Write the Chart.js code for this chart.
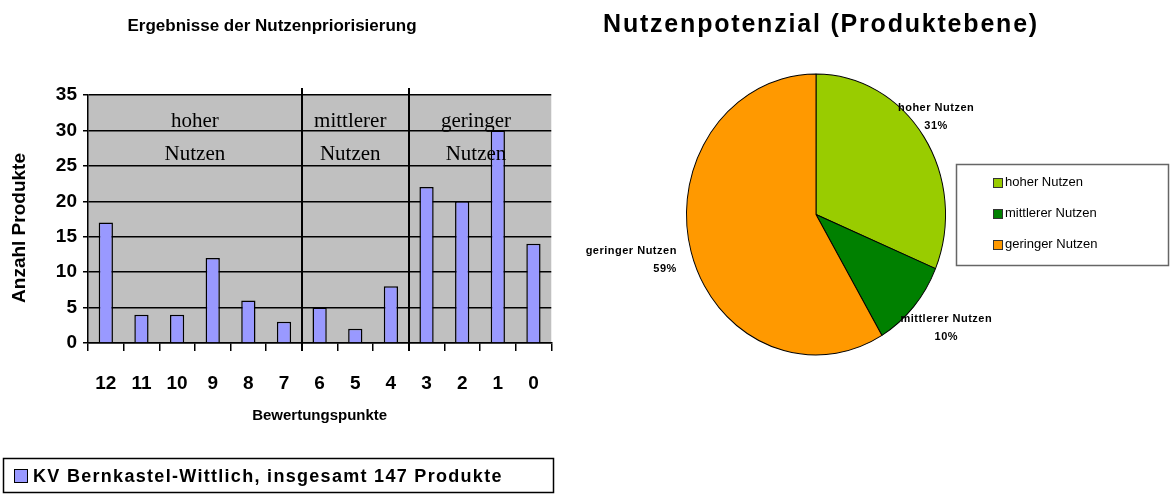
<!DOCTYPE html>
<html>
<head>
<meta charset="utf-8">
<script src="https://cdn.jsdelivr.net/npm/chart.js@4.4.1/dist/chart.umd.min.js"></script>
<style>
  html, body { margin: 0; padding: 0; background: #fff; }
  #wrap { position: relative; width: 1170px; height: 495px; overflow: hidden; }
  canvas { position: absolute; top: 0; }
  #bar { left: 0; }
  #pie { left: 560px; }
</style>
</head>
<body>
<div id="wrap">
  <canvas id="bar" width="560" height="495"></canvas>
  <canvas id="pie" width="610" height="495"></canvas>
</div>
<script>
// ---- data ----
const categories = ['12', '11', '10', '9', '8', '7', '6', '5', '4', '3', '2', '1', '0'];
const productCounts = [17, 4, 4, 12, 6, 3, 5, 2, 8, 22, 20, 30, 14];
const yMin = 0;
const yMax = 35;
const yStep = 5;
const groupLabels = [['hoher', 'Nutzen'], ['mittlerer', 'Nutzen'], ['geringer', 'Nutzen']];
const groupStartIndex = [0, 6, 9];
const barSeriesLabel = 'KV Bernkastel-Wittlich, insgesamt 147 Produkte';
const barTitle = 'Ergebnisse der Nutzenpriorisierung';
const xAxisTitle = 'Bewertungspunkte';
const yAxisTitle = 'Anzahl Produkte';

const pieTitle = 'Nutzenpotenzial (Produktebene)';
const pieLabels = ['hoher Nutzen', 'mittlerer Nutzen', 'geringer Nutzen'];
const pieValues = [46, 15, 86];
const pieColors = ['#99CC00', '#008000', '#FF9900'];

const SANS = '"Liberation Sans", Arial, sans-serif';
const SERIF = '"Liberation Serif", "Times New Roman", serif';
Chart.defaults.font.family = SANS;
Chart.defaults.color = '#000';

// ---- bar chart ----
const barDecor = {
  id: 'barDecor',
  beforeDraw(chart) {
    const { ctx, chartArea: a } = chart;
    ctx.save();
    ctx.fillStyle = '#C0C0C0';
    ctx.fillRect(a.left, a.top, a.right - a.left, a.bottom - a.top);
    ctx.restore();
  },
  afterDatasetsDraw(chart) {
    const { ctx, chartArea: a, scales: { x } } = chart;
    ctx.save();
    const bounds = groupStartIndex.map(i => i === 0 ? a.left : (x.getPixelForValue(i - 1) + x.getPixelForValue(i)) / 2);
    bounds.push(a.right);
    ctx.strokeStyle = '#000';
    ctx.lineWidth = 2;
    for (let i = 1; i < groupStartIndex.length; i++) {
      ctx.beginPath();
      ctx.moveTo(Math.round(bounds[i]), a.top - 7);
      ctx.lineTo(Math.round(bounds[i]), a.bottom + 8);
      ctx.stroke();
    }
    ctx.fillStyle = '#000';
    ctx.font = '21px ' + SERIF;
    ctx.textAlign = 'center';
    ctx.textBaseline = 'middle';
    const shift = [0, -5, -4];
    groupLabels.forEach((lines, g) => {
      const cx = (bounds[g] + bounds[g + 1]) / 2 + shift[g];
      lines.forEach((t, k) => ctx.fillText(t, cx, a.top + 26 + k * 33));
    });
    ctx.restore();
  },
  afterDraw(chart) {
    const { ctx, chartArea: a } = chart;
    ctx.save();
    ctx.fillStyle = '#000';
    ctx.font = 'bold 17px ' + SANS;
    ctx.textAlign = 'center';
    ctx.textBaseline = 'middle';
    ctx.fillText(barTitle, 272, 26);
    // y axis title
    ctx.save();
    ctx.translate(20, (a.top + a.bottom) / 2 + 9);
    ctx.rotate(-Math.PI / 2);
    ctx.font = 'bold 19px ' + SANS;
    ctx.fillText(yAxisTitle, 0, 0);
    ctx.restore();
    // legend box
    ctx.strokeStyle = '#000';
    ctx.lineWidth = 1.5;
    ctx.strokeRect(3.5, 458.5, 550, 34);
    ctx.fillStyle = '#9999FF';
    ctx.fillRect(14, 469, 14, 14);
    ctx.lineWidth = 1;
    ctx.strokeRect(14.5, 469.5, 13, 13);
    ctx.fillStyle = '#000';
    ctx.font = 'bold 18px ' + SANS;
    ctx.letterSpacing = '1.3px';
    ctx.textAlign = 'left';
    ctx.fillText(barSeriesLabel, 33, 477);
    ctx.restore();
  }
};

new Chart(document.getElementById('bar'), {
  type: 'bar',
  data: {
    labels: categories,
    datasets: [{
      label: barSeriesLabel,
      data: productCounts,
      backgroundColor: '#9999FF',
      borderColor: '#000',
      borderWidth: 1.5,
      barPercentage: 0.4,
      categoryPercentage: 1
    }]
  },
  options: {
    responsive: false,
    animation: false,
    devicePixelRatio: 1,
    layout: { padding: { top: 95, right: 7, bottom: 67, left: 0 } },
    plugins: { legend: { display: false }, tooltip: { enabled: false }, title: { display: false } },
    scales: {
      x: {
        grid: { offset: true, drawOnChartArea: false, drawTicks: true, tickLength: 8, color: '#000', lineWidth: 1.5 },
        border: { display: true, color: '#000', width: 1.5 },
        ticks: { color: '#000', font: { weight: 'bold', size: 19 }, padding: 21, maxRotation: 0, autoSkip: false },
        title: { display: true, text: xAxisTitle, color: '#000', font: { weight: 'bold', size: 15 }, padding: { top: 0, bottom: 3 } },
        afterFit(s) { s.height = 85; }
      },
      y: {
        min: yMin,
        max: yMax,
        grid: { color: '#000', lineWidth: 1.5, tickLength: 5, drawTicks: true },
        border: { display: true, color: '#000', width: 1.5 },
        ticks: { stepSize: yStep, color: '#000', font: { weight: 'bold', size: 19 }, padding: 6 },
        title: { display: false },
        afterFit(s) { s.width = 88; }
      }
    }
  },
  plugins: [barDecor]
});

// ---- pie chart ----
const labelNudge = [[-6, 4], [16, 0], [7, 7]];
const pieDecor = {
  id: 'pieDecor',
  beforeDatasetsDraw(chart) {
    // slightly elliptical pie, as in the original
    const { ctx } = chart;
    const arc = chart.getDatasetMeta(0).data[0];
    ctx.save();
    ctx.translate(arc.x, arc.y);
    ctx.scale(130 / 136, 141 / 136);
    ctx.translate(-arc.x, -arc.y);
  },
  afterDatasetsDraw(chart) {
    chart.ctx.restore();
  },
  afterDraw(chart) {
    const { ctx } = chart;
    const meta = chart.getDatasetMeta(0);
    const total = pieValues.reduce((s, v) => s + v, 0);
    ctx.save();
    ctx.fillStyle = '#000';
    ctx.font = 'bold 25px ' + SANS;
    ctx.letterSpacing = '1.8px';
    ctx.textAlign = 'center';
    ctx.textBaseline = 'middle';
    ctx.fillText(pieTitle, 261, 25);
    // data labels
    ctx.font = 'bold 11px ' + SANS;
    ctx.letterSpacing = '0.5px';
    meta.data.forEach((arc, i) => {
      const mid = (arc.startAngle + arc.endAngle) / 2;
      const dx = Math.cos(mid), dy = Math.sin(mid);
      const r = arc.outerRadius + 16;
      const ax = arc.x + r * dx + labelNudge[i][0], ay = arc.y + r * dy + labelNudge[i][1];
      let align = 'center';
      if (Math.abs(dx) > 0.9) align = dx > 0 ? 'left' : 'right';
      ctx.textAlign = align;
      const pct = Math.round(pieValues[i] / total * 100) + '%';
      const lines = [pieLabels[i], pct];
      const lh = 18;
      let top;
      if (dy < -0.3) top = ay - lh * 2 + 4;
      else if (dy > 0.3) top = ay;
      else top = ay - lh + 2;
      ctx.textBaseline = 'top';
      lines.forEach((t, k) => ctx.fillText(t, ax, top + k * lh));
    });
    // legend
    ctx.letterSpacing = '0px';
    ctx.strokeStyle = '#666';
    ctx.lineWidth = 1.5;
    ctx.strokeRect(396.5, 164.5, 212, 101);
    ctx.font = '13px ' + SANS;
    ctx.textAlign = 'left';
    ctx.textBaseline = 'middle';
    pieLabels.forEach((t, i) => {
      const y = 182 + i * 31;
      ctx.fillStyle = pieColors[i];
      ctx.fillRect(433, y - 4, 10, 10);
      ctx.strokeStyle = '#333';
      ctx.lineWidth = 1;
      ctx.strokeRect(433.5, y - 3.5, 9, 9);
      ctx.fillStyle = '#000';
      ctx.fillText(t, 445, y);
    });
    ctx.restore();
  }
};

new Chart(document.getElementById('pie'), {
  type: 'pie',
  data: {
    labels: pieLabels,
    datasets: [{
      data: pieValues,
      backgroundColor: pieColors,
      borderColor: '#000',
      borderWidth: 1
    }]
  },
  options: {
    responsive: false,
    animation: false,
    devicePixelRatio: 1,
    layout: { padding: { left: 120, right: 218, top: 78, bottom: 144 } },
    plugins: { legend: { display: false }, tooltip: { enabled: false }, title: { display: false } }
  },
  plugins: [pieDecor]
});
</script>
</body>
</html>
